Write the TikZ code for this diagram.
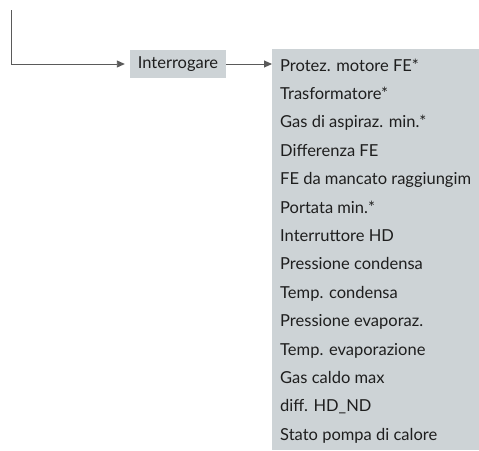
\documentclass[tikz,border=0pt]{standalone}
\usepackage{fontspec}
\setmainfont{Lato}
\usepackage{tikz}
\usetikzlibrary{arrows.meta}
\definecolor{boxgrey}{RGB}{205,211,214}
\definecolor{linegrey}{RGB}{90,90,90}
\definecolor{textgrey}{RGB}{30,30,30}

\begin{document}
\begin{tikzpicture}[x=1pt,y=-1pt,
  conn/.style={draw=linegrey,line width=0.9pt,-{Triangle[length=8pt,width=7pt]}},
  askbox/.style={fill=boxgrey,minimum width=96pt,minimum height=28pt,inner sep=0pt,
    text=textgrey,font=\fontsize{16.5}{19}\selectfont},
  listbox/.style={fill=boxgrey,minimum width=207pt,minimum height=401pt,inner sep=0pt,anchor=north west},
  item/.style={anchor=base west,inner sep=0pt,text=textgrey,font=\fontsize{16.5}{19}\selectfont}]
\useasboundingbox (0,0) rectangle (479,450);
\clip (0,0) rectangle (479,450);
% boxes
\node[askbox] (ask) at (178,64) {Interrogare};
\node[listbox] (menu) at (272,49) {};
% menu entries
\foreach \txt [count=\i] in {Protez. motore FE*,Trasformatore*,Gas di aspiraz. min.*,
  Differenza FE,FE da mancato raggiungim,Portata min.*,Interruttore HD,
  Pressione condensa,Temp. condensa,Pressione evaporaz.,Temp. evaporazione,
  Gas caldo max,diff. HD\_ND,Stato pompa di calore}
  \node[item] (m\i) at (280,{71+28.4*(\i-1)}) {\txt};
% connectors
\coordinate (start) at (11,10);
\draw[conn,shorten >=5pt] (start) |- (ask.west);
\draw[conn] (ask.east) -- (menu.west |- ask.east);
\end{tikzpicture}
\end{document}
